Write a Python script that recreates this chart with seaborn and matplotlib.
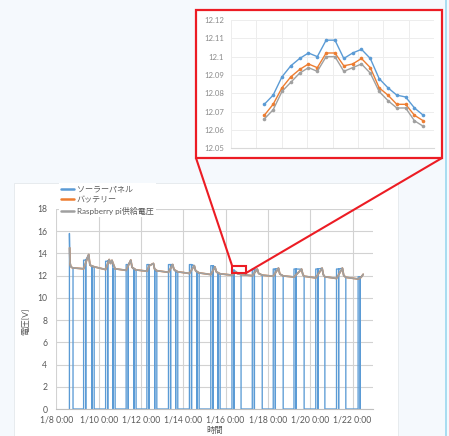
import numpy as np
import pandas as pd
import matplotlib
matplotlib.use("Agg")
import matplotlib.pyplot as plt
import seaborn as sns
from matplotlib.patches import Rectangle, ConnectionPatch
from matplotlib.lines import Line2D

# ---------------- data ----------------
series_names = ["ソーラーパネル", "バッテリー", "Raspberry pi供給電圧"]
series_colors = ["#5b9bd5", "#ed7d31", "#a0a0a0"]

x_tick_days = [0, 2, 4, 6, 8, 10, 12, 14]
x_tick_labels = ["1/8 0:00", "1/10 0:00", "1/12 0:00", "1/14 0:00",
                 "1/16 0:00", "1/18 0:00", "1/20 0:00", "1/22 0:00"]
y_ticks = [0, 2, 4, 6, 8, 10, 12, 14, 16, 18]

# main chart (time in days since 1/8 0:00)
solar_start_t = [0.62, 0.62]
solar_start_v = [0.0, 15.8]
pi_start_t = [0.63, 0.645, 0.68, 0.72]
pi_start_v = [14.5, 13.2, 12.85, 12.75]

fall_t = [0.79, 1.79, 2.78, 3.77, 4.75, 5.74, 6.75, 7.74, 8.73, 9.73, 10.72, 11.71, 12.69, 13.68]
fall_v = [12.70, 12.80, 12.62, 12.52, 12.45, 12.35, 12.25, 12.17, 12.10, 12.05, 11.98, 11.95, 11.90, 11.85]
rise_t = [1.29, 2.33, 3.30, 4.28, 5.30, 6.29, 7.30, 8.30, 9.26, 10.25, 11.23, 12.26, 13.24, 14.26]
night_v = [12.62, 12.55, 12.48, 12.40, 12.30, 12.20, 12.10, 12.05, 12.00, 11.95, 11.88, 11.80, 11.75, 11.70]
rise_dip_t = [1.39, 2.43, 3.40, 4.38, 5.40, 6.39, 7.40, 8.40, 9.36, 10.35, 11.33, 12.36, 13.34, 14.36]
solar_top = [13.4, 13.3, 13.0, 13.0, 13.0, 13.0, 12.9, 12.5, 12.6, 12.6, 12.6, 12.6, 12.6, 11.9]
fall_dip_t = [1.69, 2.68, 3.67, 4.65, 5.64, 6.65, 7.64]
peak_t = [1.53, 2.50, 3.52, 4.59, 5.50, 6.52, 7.50, 8.50, 9.50, 10.50, 11.59, 12.56, 13.52]
peak_v = [13.90, 13.45, 13.40, 13.10, 13.00, 12.90, 12.78, 12.35, 12.58, 12.67, 12.58, 12.67, 12.67]
decay_t = [1.59, 2.56, 3.58, 4.64, 5.56, 6.58, 7.56, 8.56, 9.56, 10.56, 11.65, 12.62, 13.58]
decay_v = [12.95, 13.10, 12.75, 12.62, 12.55, 12.45, 12.35, 12.18, 12.20, 12.15, 12.10, 12.08, 12.02]
extra_t = [2.63, 4.40]
extra_v = [13.38, 12.90]
end_t = [14.40, 14.50]
end_v = [11.85, 12.12]

# inset (zoomed detail, 19 samples)
inset_idx = list(range(19))
inset_solar = [12.074, 12.079, 12.089, 12.095, 12.099, 12.102, 12.100, 12.109, 12.109, 12.099,
               12.102, 12.104, 12.099, 12.088, 12.083, 12.079, 12.078, 12.072, 12.068]
inset_batt = [12.068, 12.074, 12.083, 12.089, 12.093, 12.096, 12.094, 12.102, 12.102, 12.095,
              12.096, 12.099, 12.094, 12.083, 12.079, 12.074, 12.074, 12.068, 12.065]
inset_pi = [12.066, 12.071, 12.081, 12.086, 12.091, 12.094, 12.092, 12.100, 12.100, 12.092,
            12.094, 12.096, 12.091, 12.081, 12.076, 12.072, 12.072, 12.065, 12.062]
inset_y_ticks = [12.05, 12.06, 12.07, 12.08, 12.09, 12.10, 12.11, 12.12]

# ---------------- build series ----------------
pi_pts = (list(zip(pi_start_t, pi_start_v)) + list(zip(fall_t, fall_v)) +
          list(zip(rise_t, night_v)) + list(zip(peak_t, peak_v)) +
          list(zip(decay_t, decay_v)) + list(zip(extra_t, extra_v)) +
          list(zip(end_t, end_v)))
pi_pts.sort(key=lambda p: p[0])

solar_pts = list(zip(solar_start_t, solar_start_v))
solar_pts += [p for p in pi_pts if p[0] < fall_t[0]]
solar_pts += [(fall_t[0], fall_v[0]), (fall_t[0], 0.0)]
for k in range(1, 15):
    i = k - 1
    r, d, sr = rise_t[i], rise_dip_t[i], solar_top[i]
    solar_pts += [(r, 0.0), (r, sr), (d, sr), (d, 0.0), (d, sr)]
    f = fall_t[k] if k < len(fall_t) else None
    fd = fall_dip_t[k - 1] if k - 1 < len(fall_dip_t) else None
    upper = fd if fd is not None else (f if f is not None else np.inf)
    solar_pts += [p for p in pi_pts if d < p[0] < upper]
    if fd is not None:
        solar_pts += [(fd, fall_v[k]), (fd, 0.0), (fd, fall_v[k])]
    if f is not None:
        solar_pts += [(f, fall_v[k]), (f, 0.0)]

rows = []
for name, pts in zip(series_names, [solar_pts, pi_pts, pi_pts]):
    for t, v in pts:
        rows.append({"t": t, "v": v, "series": name})
df_main = pd.DataFrame(rows)

df_inset = pd.DataFrame({
    "idx": inset_idx * 3,
    "v": inset_solar + inset_batt + inset_pi,
    "series": [series_names[0]] * 19 + [series_names[1]] * 19 + [series_names[2]] * 19,
})

# ---------------- figure ----------------
sns.set_style("white")
plt.rcParams["font.family"] = ["Lato", "Noto Sans CJK JP", "DejaVu Sans"]

W, H = 449, 436
fig = plt.figure(figsize=(W / 100, H / 100), dpi=100)
fig.patch.set_facecolor("#f5f9fd")

def fx(x):
    return x / W

def fy(y):
    return 1 - y / H

# white chart panel
fig.add_artist(Rectangle((fx(14), 0), fx(398) - fx(14), fy(183), transform=fig.transFigure,
                         facecolor="white", edgecolor="#e4e8ec", lw=0.6, zorder=0))
# cyan edge line
fig.add_artist(Line2D([fx(446), fx(446)], [0, 1], transform=fig.transFigure,
                      color="#9ad8ef", lw=1.2, zorder=0))

red = "#ec1c24"
gray_txt = "#595959"

# main axes
ax = fig.add_axes([fx(56.3), fy(409), fx(372.7) - fx(56.3), fy(209) - fy(409)])
ax.set_facecolor("white")
sns.lineplot(data=df_main, x="t", y="v", hue="series", hue_order=series_names,
             palette=series_colors, sort=False, estimator=None, legend=False,
             linewidth=0.95, ax=ax)
for ln in ax.get_lines()[1:]:
    ln.set_linewidth(1.25)
ax.set_xlim(0, 14.95)
ax.set_ylim(0, 18)
ax.set_xticks(x_tick_days)
ax.set_xticklabels(x_tick_labels)
ax.set_yticks(y_ticks)
ax.grid(True, color="#d2d2d2", lw=0.8)
ax.set_axisbelow(True)
for s in ["top", "right", "left"]:
    ax.spines[s].set_visible(False)
ax.spines["bottom"].set_color("#bfbfbf")
ax.spines["bottom"].set_linewidth(0.8)
ax.tick_params(axis="both", length=0, labelsize=6.2, labelcolor=gray_txt)
ax.tick_params(axis="y", pad=6.5)
ax.tick_params(axis="x", pad=4.5)
ax.set_ylabel("電圧[V]", fontsize=6, color=gray_txt)
ax.yaxis.set_label_coords(-0.085, 0.44)
ax.set_xlabel("時間", fontsize=6, color=gray_txt)
ax.xaxis.set_label_coords(0.5, -0.085)

handles = [Line2D([], [], color=c, lw=1.8) for c in series_colors]
leg = ax.legend(handles, series_names, loc="upper left",
                bbox_to_anchor=(fx(59), fy(183)), bbox_transform=fig.transFigure,
                frameon=True, fancybox=False, fontsize=5.8, handlelength=1.6,
                handletextpad=0.3, labelspacing=0.45, borderpad=0.3, borderaxespad=0)
leg.get_frame().set_facecolor("white")
leg.get_frame().set_edgecolor("none")
leg.get_frame().set_alpha(1)
for txt in leg.get_texts():
    txt.set_color(gray_txt)

# small highlight box on main chart
ax.add_patch(Rectangle((8.31, 12.21), 0.63, 0.66, fill=False, edgecolor=red,
                       lw=1.5, zorder=6, clip_on=False))

# inset frame
fig.add_artist(Rectangle((fx(196), fy(158)), fx(442) - fx(196), fy(10) - fy(158),
                         transform=fig.transFigure, facecolor="white", edgecolor=red,
                         lw=1.6, zorder=1))

for xy_a, xy_b in [((8.31, 12.87), (fx(196), fy(158))), ((8.94, 12.21), (fx(442), fy(158)))]:
    con = ConnectionPatch(xyA=xy_a, coordsA=ax.transData, xyB=xy_b, coordsB=fig.transFigure,
                          color=red, lw=1.5, zorder=7)
    fig.add_artist(con)

# inset axes
axi = fig.add_axes([fx(231), fy(148.3), fx(434) - fx(231), fy(20) - fy(148.3)], zorder=3)
axi.set_facecolor("white")
sns.lineplot(data=df_inset, x="idx", y="v", hue="series", hue_order=series_names,
             palette=series_colors, sort=False, estimator=None, legend=False,
             linewidth=1.0, marker="o", markersize=2.6, markeredgewidth=0, ax=axi)
axi.set_xlim(-3.77, 19.21)
axi.set_ylim(12.05, 12.12)
axi.set_xticks(np.linspace(-3.77, 19.21, 9))
axi.set_xticklabels([])
axi.set_yticks(inset_y_ticks)
axi.set_yticklabels([f"{v:g}" for v in np.round(inset_y_ticks, 2)])
axi.grid(True, color="#ededed", lw=0.7)
axi.set_axisbelow(True)
for s in ["top", "right", "left"]:
    axi.spines[s].set_visible(False)
axi.spines["bottom"].set_color("#d9d9d9")
axi.spines["bottom"].set_linewidth(0.8)
axi.tick_params(axis="both", length=0, labelsize=5.6, labelcolor="#8a8a8a")
axi.tick_params(axis="y", pad=5)
axi.set_xlabel("")
axi.set_ylabel("")

fig.savefig("out.png", dpi=100, facecolor=fig.get_facecolor())
